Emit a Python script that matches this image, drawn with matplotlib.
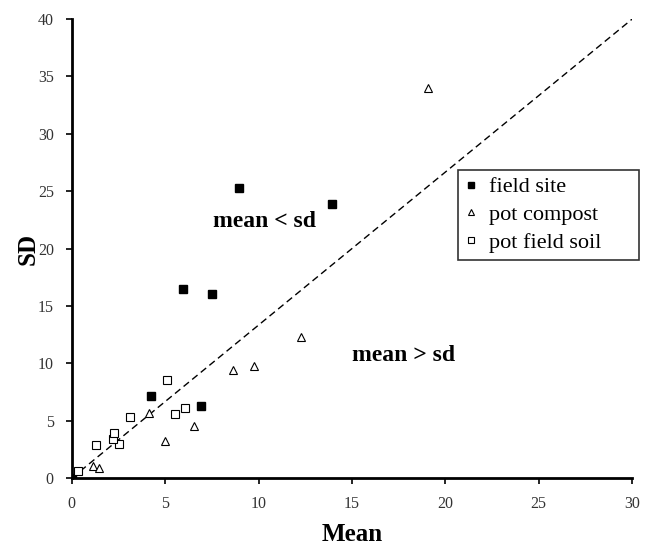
import numpy as np
import matplotlib
matplotlib.use("Agg")
import matplotlib.pyplot as plt

plt.rcParams['font.family'] = ['Liberation Serif', 'DejaVu Serif']

# field site (filled squares)
field_mean = [0.0, 4.23, 6.89, 5.95, 7.5, 8.94, 13.93]
field_sd = [0.0, 7.15, 6.27, 16.47, 16.03, 25.27, 23.88]

# pot compost (open triangles)
compost_mean = [1.14, 1.45, 4.98, 4.12, 6.55, 8.62, 9.78, 12.25, 19.07]
compost_sd = [1.05, 0.84, 3.25, 5.64, 4.56, 9.41, 9.79, 12.31, 33.99]

# pot field soil (open squares)
soil_mean = [0.34, 1.32, 2.55, 2.21, 2.27, 3.12, 5.54, 6.05, 5.11]
soil_sd = [0.61, 2.88, 2.96, 3.37, 3.89, 5.34, 5.58, 6.07, 8.54]

fig = plt.figure(figsize=(6.53, 5.46), dpi=100)
ax = fig.add_axes([0.110, 0.1245, 0.858, 0.8405])

ax.plot([0, 30], [0, 40], linestyle=(0, (5, 3)), color='black', lw=1.0, zorder=1)

ax.plot(field_mean, field_sd, 's', color='black', ms=6, label='field site',
        linestyle='none', zorder=3)
ax.plot(compost_mean, compost_sd, '^', mfc='white', mec='black', mew=0.8,
        ms=6, label='pot compost', linestyle='none', zorder=3)
ax.plot(soil_mean, soil_sd, 's', mfc='white', mec='black', mew=0.8,
        ms=6, label='pot field soil', linestyle='none', zorder=3)

ax.text(10.34, 22.4, 'mean < sd', fontsize=17, fontweight='bold',
        ha='center', va='center')
ax.text(17.78, 10.7, 'mean > sd', fontsize=17, fontweight='bold',
        ha='center', va='center')

ax.set_xlim(0, 30)
ax.set_ylim(0, 40)
ax.set_xticks(np.arange(0, 31, 5))
ax.set_yticks(np.arange(0, 41, 5))
ax.tick_params(labelsize=11.5, labelcolor='#333333', length=4, width=1.2,
               direction='out', pad=9)

for s in ['top', 'right']:
    ax.spines[s].set_visible(False)
for s in ['left', 'bottom']:
    ax.spines[s].set_linewidth(2.0)

ax.set_xlabel('Mean', fontsize=18, fontweight='bold', labelpad=8)
ax.set_ylabel('SD', fontsize=18, fontweight='bold', labelpad=-1)

leg = ax.legend(loc='upper left', bbox_to_anchor=(0.689, 0.471, 0.323, 0.2),
                mode='expand', fontsize=16, frameon=True, fancybox=False,
                edgecolor='black', handlelength=0.6, handletextpad=0.5,
                borderpad=0.3, labelspacing=0.33, markerscale=0.7,
                borderaxespad=0)
leg.get_frame().set_linewidth(1.2)

fig.savefig('out.png', dpi=100)
